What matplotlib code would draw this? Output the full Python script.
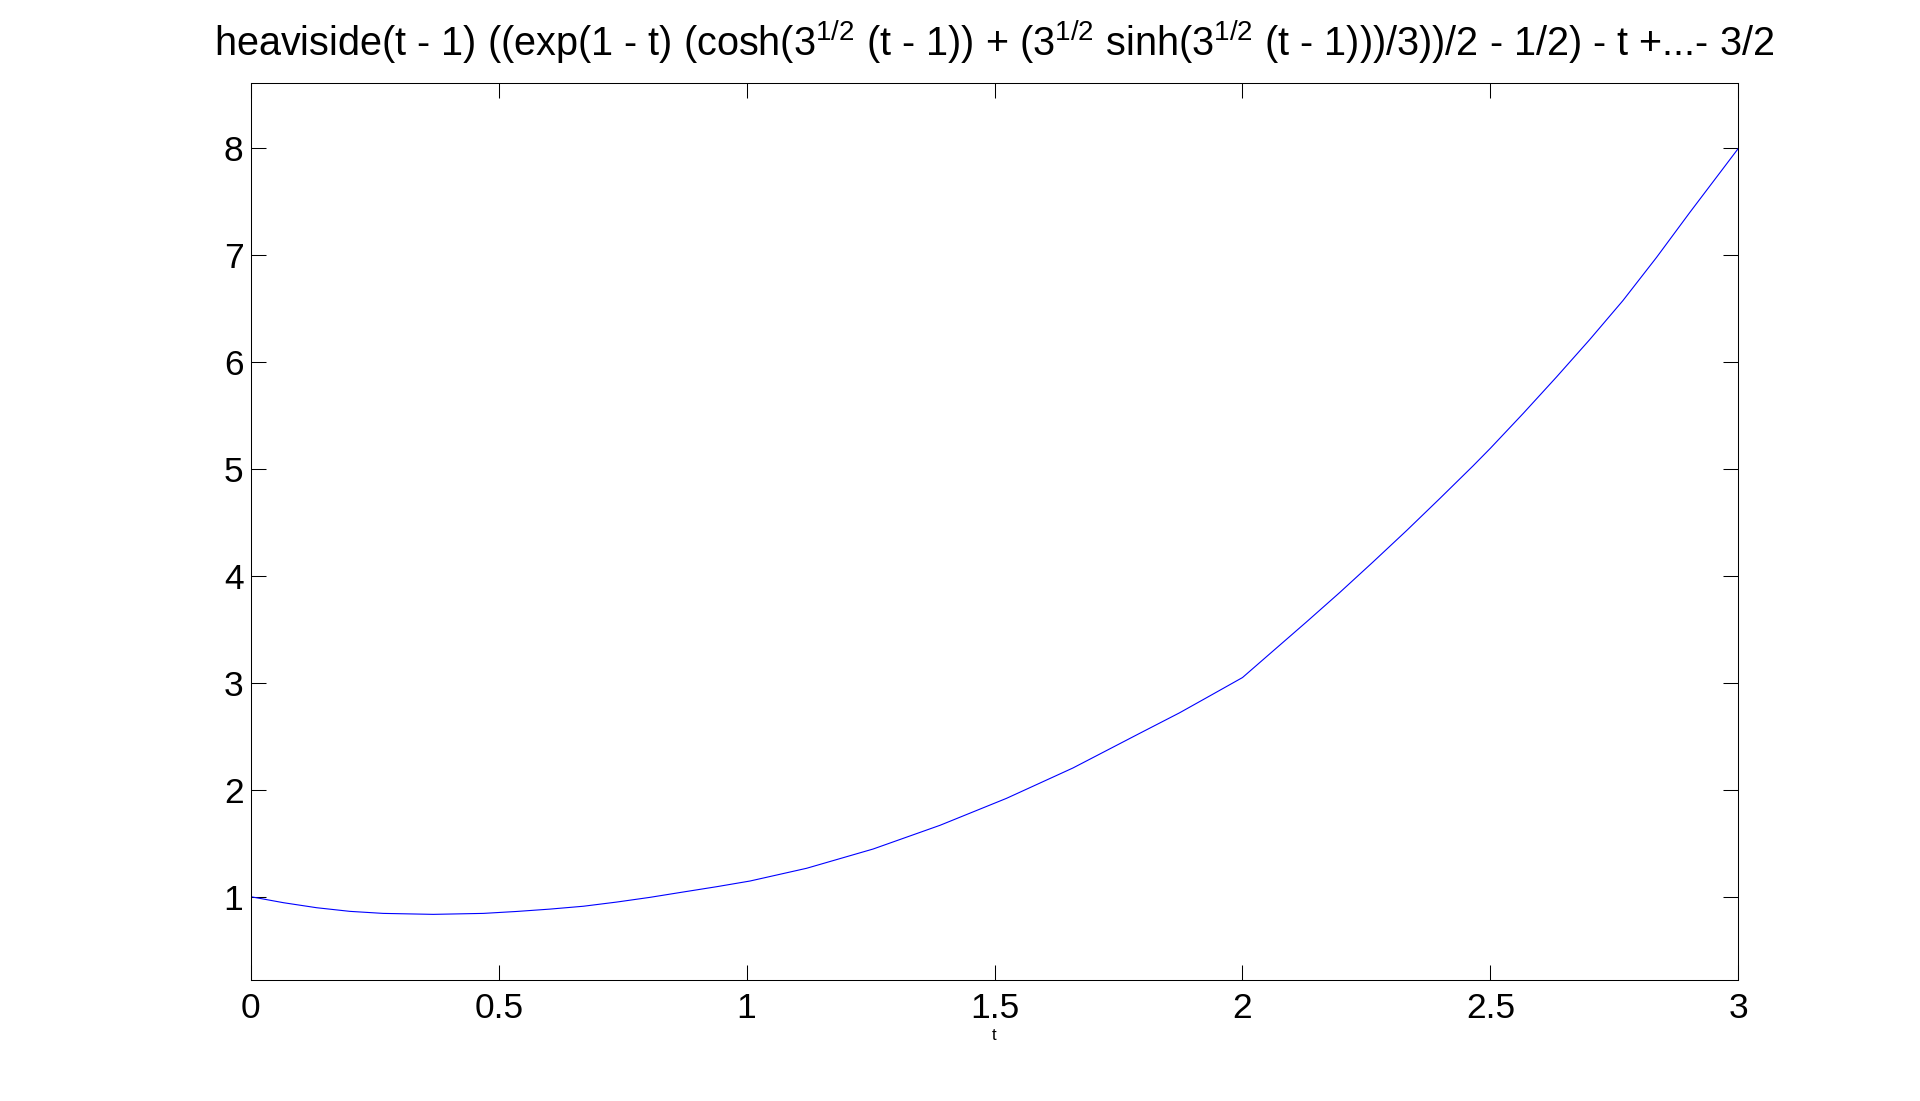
import matplotlib
matplotlib.use('Agg')
import matplotlib.pyplot as plt

# values
t = [0, 0.066, 0.133, 0.2, 0.267, 0.368, 0.469, 0.536, 0.603, 0.671, 0.738,
     0.805, 0.872, 0.94, 1.007, 1.121, 1.255, 1.39, 1.524, 1.658, 1.793,
     1.873, 1.927, 2.0, 2.062, 2.129, 2.196, 2.263, 2.331, 2.398, 2.465, 2.5,
     2.566, 2.633, 2.7, 2.767, 2.835, 2.902, 2.969, 3.0]
y = [1.0, 0.944, 0.897, 0.863, 0.844, 0.835, 0.844, 0.862, 0.884, 0.911, 0.95,
     0.994, 1.044, 1.094, 1.147, 1.266, 1.446, 1.668, 1.92, 2.204, 2.529,
     2.72, 2.86, 3.05, 3.30, 3.57, 3.845, 4.13, 4.425, 4.725, 5.03, 5.195,
     5.52, 5.86, 6.21, 6.575, 6.98, 7.40, 7.81, 8.0]
xticks = [0, 0.5, 1, 1.5, 2, 2.5, 3]
xtick_labels = ['0', '0.5', '1', '1.5', '2', '2.5', '3']
yticks = [1, 2, 3, 4, 5, 6, 7, 8]

title = ('heaviside(t - 1) ((exp(1 - t) (cosh($3^{1/2}$ (t - 1)) + '
         '($3^{1/2}$ sinh($3^{1/2}$ (t - 1)))/3))/2 - 1/2) - t +...- 3/2')

plt.rcParams['font.family'] = ['Liberation Sans', 'DejaVu Sans']
plt.rcParams['mathtext.fontset'] = 'custom'
plt.rcParams['mathtext.rm'] = 'Liberation Sans'
plt.rcParams['mathtext.it'] = 'Liberation Sans'
plt.rcParams['mathtext.bf'] = 'Liberation Sans'

fig = plt.figure(figsize=(19.2, 11.01), dpi=100)
ax = fig.add_axes([0.1306, 0.1099, 0.7748, 0.8144])
ax.plot(t, y, color='#0000ff', linewidth=0.8)

ax.set_xlim(0, 3)
ax.set_ylim(0.221, 8.608)
ax.set_xticks(xticks)
ax.set_xticklabels(xtick_labels)
ax.set_yticks(yticks)
ax.tick_params(direction='in', length=10.7, width=0.75, top=True, right=True,
               labelsize=25.5, colors='black')
ax.tick_params(axis='x', pad=8.4)
ax.tick_params(axis='y', pad=5.3)
for s in ax.spines.values():
    s.set_linewidth(0.75)

ax.set_xlabel('t', fontsize=12, labelpad=2.5)
ax.set_title(title, fontsize=28.5, pad=20)

fig.savefig('out.png', dpi=100)
